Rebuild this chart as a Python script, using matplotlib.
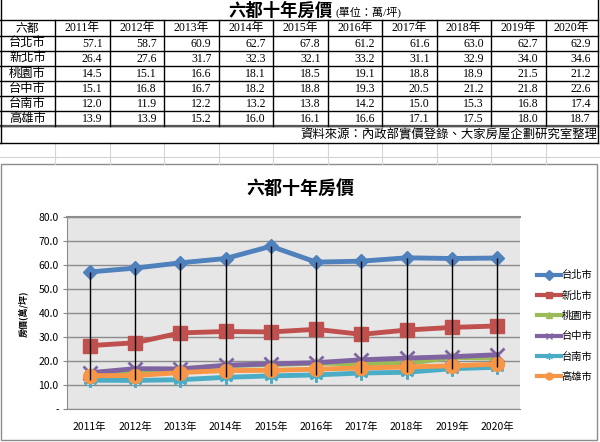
import matplotlib
matplotlib.use("Agg")
import numpy as np
import matplotlib.pyplot as plt
from matplotlib.lines import Line2D
from matplotlib.patches import Rectangle

plt.rcParams['font.family'] = ['Noto Sans CJK TC', 'DejaVu Sans']

# data
years = ['2011年', '2012年', '2013年', '2014年', '2015年',
         '2016年', '2017年', '2018年', '2019年', '2020年']
cities = ['台北市', '新北市', '桃園市', '台中市', '台南市', '高雄市']
taipei = [57.1, 58.7, 60.9, 62.7, 67.8, 61.2, 61.6, 63.0, 62.7, 62.9]
new_taipei = [26.4, 27.6, 31.7, 32.3, 32.1, 33.2, 31.1, 32.9, 34.0, 34.6]
taoyuan = [14.5, 15.1, 16.6, 18.1, 18.5, 19.1, 18.8, 18.9, 21.5, 21.2]
taichung = [15.1, 16.8, 16.7, 18.2, 18.8, 19.3, 20.5, 21.2, 21.8, 22.6]
tainan = [12.0, 11.9, 12.2, 13.2, 13.8, 14.2, 15.0, 15.3, 16.8, 17.4]
kaohsiung = [13.9, 13.9, 15.2, 16.0, 16.1, 16.6, 17.1, 17.5, 18.0, 18.7]
series = [taipei, new_taipei, taoyuan, taichung, tainan, kaohsiung]
source = '資料來源：內政部實價登錄、大家房屋企劃研究室整理'

colors = ['#4F81BD', '#C0504D', '#9BBB59', '#8064A2', '#4BACC6', '#F79646']
markers = ['D', 's', '^', 'x', (6, 2, 0), 'o']
msizes = [7, 10, 8, 10, 10, 10]

W, H = 600, 442
fig = plt.figure(figsize=(6, 4.42), dpi=100)

# background layer in pixel coordinates
bg = fig.add_axes([0, 0, 1, 1])
bg.set_xlim(0, W)
bg.set_ylim(H, 0)
bg.axis('off')

col_edges = [0, 55] + [55 + 54.5 * (i + 1) for i in range(10)]
col_edges[-1] = 598
row_edges = [20, 36, 51, 66, 81, 96, 111, 126]

# spreadsheet grid below the table
for x in col_edges[1:-1]:
    bg.plot([x, x], [143, 164], color='#d4d4d4', lw=0.8)
bg.plot([0, 600], [157, 157], color='#d4d4d4', lw=0.8)

# table lines
for y in row_edges:
    bg.plot([0, 598], [y, y], color='black', lw=1.0)
bg.plot([0, 598], [126, 126], color='#555555', lw=1.6)
bg.plot([0, 598], [143, 143], color='black', lw=1.0)
bg.plot([0.5, 0.5], [0, 143], color='black', lw=1.0)
bg.plot([598, 598], [0, 143], color='black', lw=1.0)
for x in col_edges[1:-1]:
    bg.plot([x, x], [20, 126], color='black', lw=1.0)

# table title
bg.text(333, 11, '六都十年房價', ha='right', va='center', fontsize=12.5, fontweight='bold')
bg.text(335, 12, '(單位：萬/坪)', ha='left', va='center', fontsize=8,
        family=['Liberation Serif', 'Noto Sans CJK TC'])

# header row
bg.text(27.5, 28, '六都', ha='center', va='center', fontsize=8.5)
for i, yr in enumerate(years):
    cx = (col_edges[i + 1] + col_edges[i + 2]) / 2
    bg.text(cx, 28, yr, ha='center', va='center', fontsize=8.5,
            family=['Liberation Serif', 'Noto Sans CJK TC'])

# body rows
for r, (name, vals) in enumerate(zip(cities, series)):
    cy = (row_edges[r + 1] + row_edges[r + 2]) / 2
    bg.text(27.5, cy, name, ha='center', va='center', fontsize=8.8)
    for i, v in enumerate(vals):
        bg.text(col_edges[i + 2] - 7, cy + 0.5, f'{v:.1f}', ha='right', va='center',
                fontsize=8.5, family='Liberation Serif')

bg.text(597, 135, source, ha='right', va='center', fontsize=8.9)

# chart frame
bg.add_patch(Rectangle((1, 164), 596, 276, fill=False, ec='#8c8c8c', lw=1.0))
bg.text(300, 188, '六都十年房價', ha='center', va='center', fontsize=13, fontweight='bold')
bg.text(23, 314, '房價(萬/坪)', ha='center', va='center', rotation=90, fontsize=6.5,
        fontweight='bold')

# line chart
ax = fig.add_axes([67 / W, 1 - 409 / H, (520 - 67) / W, (409 - 217) / H])
ax.set_facecolor('#e6e6e6')
x = np.arange(len(years))
for vals, c, m, ms in zip(series, colors, markers, msizes):
    ax.plot(x, vals, color=c, lw=3.5, marker=m, markersize=ms, mec=c, mew=2 if m in ('x', (6, 2, 0)) else 1,
            zorder=3)

hi = np.max(series, axis=0)
lo = np.min(series, axis=0)
ax.vlines(x, lo, hi, color='black', lw=1.0, zorder=4)

ax.set_xlim(-0.5, len(years) - 0.5)
ax.set_ylim(0, 80)
ax.set_yticks(np.arange(0, 81, 10))
ax.set_yticklabels(['-'] + [f'{v:.1f}' for v in np.arange(10, 81, 10)], fontsize=7.5)
ax.set_xticks(x)
ax.set_xticklabels(years, fontsize=7.5)
ax.tick_params(axis='y', length=3, color='#888888', pad=3)
ax.tick_params(axis='x', length=0, pad=9)
ax.grid(axis='y', color='#8c8c8c', lw=1.0, zorder=0)
ax.set_axisbelow(True)
for s in ['right']:
    ax.spines[s].set_visible(False)
for s in ['left', 'bottom', 'top']:
    ax.spines[s].set_color('#8c8c8c')
ax.spines['top'].set_linewidth(1.5)

handles = [Line2D([], [], color=c, lw=3, marker=m, markersize=5, mec=c) for c, m in zip(colors, markers)]
fig.legend(handles, cities, loc='upper left', bbox_to_anchor=(532 / W, 1 - 265 / H),
           frameon=False, fontsize=7.4, handlelength=2.3, handletextpad=0.1,
           labelspacing=1.0, borderpad=0)

fig.savefig('out.png', dpi=100)
